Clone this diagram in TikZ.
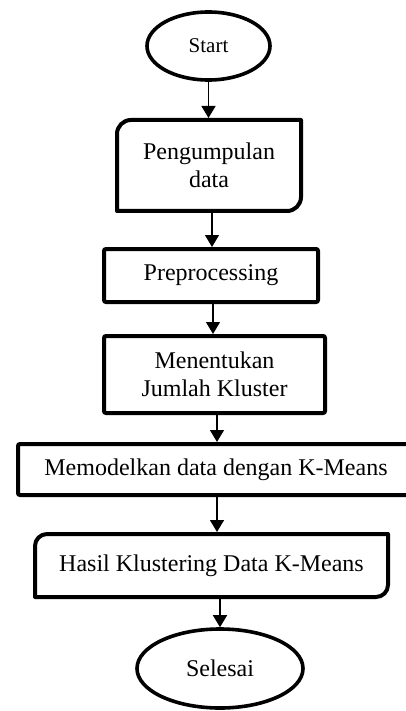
\documentclass[tikz,border=0pt]{standalone}
\usepackage{fontspec}
\setmainfont{Liberation Serif}
\usepackage{tikz}
\usetikzlibrary{shapes.geometric,arrows.meta,calc}

\tikzset{
  terminal/.style={ellipse,draw,line width=3.6pt,inner sep=0pt,
    font=\fontsize{24}{28}\selectfont},
  process/.style={rectangle,draw,line width=4pt,rounded corners=2pt,inner sep=0pt,
    align=center,font=\fontsize{24}{28}\selectfont},
  docbox/.style={rectangle,line width=4pt,inner sep=0pt,
    align=center,font=\fontsize{24}{28}\selectfont},
  flow/.style={line width=1.5pt,-{Triangle[length=12pt,width=14pt]}},
}

\begin{document}
\begin{tikzpicture}[x=1pt,y=-1pt]
		\useasboundingbox (0,0) rectangle (405,711);
		% terminals and steps
		\node[terminal,minimum width=123pt,minimum height=68pt,font=\fontsize{21}{25}\selectfont] (start) at (208.5,46) {Start};
		\node[docbox,minimum width=184pt,minimum height=91pt] (collect) at (209,165.5) {Pengumpulan\\data};
		\node[process,minimum width=214pt,minimum height=53pt] (prep) at (211,275.5) {Preprocessing};
		\node[process,minimum width=221pt,minimum height=77pt] (nclust) at (214.5,374.5) {Menentukan\\Jumlah Kluster};
		\node[process,minimum width=396pt,minimum height=51pt] (model) at (216,469.5) {Memodelkan data dengan K-Means};
		\node[docbox,minimum width=353pt,minimum height=63pt] (result) at (211.5,565.5) {Hasil Klustering Data K-Means};
		\node[terminal,minimum width=166pt,minimum height=79pt] (finish) at (220,668.5) {Selesai};
		% boxes with two rounded corners
		\foreach \b/\r in {collect/14,result/12}{
			\draw[line width=4pt,line join=round]
				($(\b.north west)+(2,2+\r)$) arc[start angle=180,end angle=90,radius=\r pt]
				-- ($(\b.north east)+(-2,2)$)
				-- ($(\b.south east)+(-2,-2-\r)$) arc[start angle=0,end angle=-90,radius=\r pt]
				-- ($(\b.south west)+(2,-2)$) -- cycle;
		}
		% arrows
		\draw[flow] (start.south) -- (start.south |- collect.north);
		\draw[flow] ($(collect.south)+(3,0)$) -- ($(collect.south |- prep.north)+(3,0)$);
		\draw[flow] ($(prep.south)+(2,0)$) -- ($(prep.south |- nclust.north)+(2,0)$);
		\draw[flow] ($(nclust.south)+(2.5,0)$) -- ($(nclust.south |- model.north)+(2.5,0)$);
		\draw[flow] ($(model.south)+(1,0)$) -- ($(model.south |- result.north)+(1,0)$);
		\draw[flow] (finish.north |- result.south) -- (finish.north);
	\end{tikzpicture}
\end{document}
